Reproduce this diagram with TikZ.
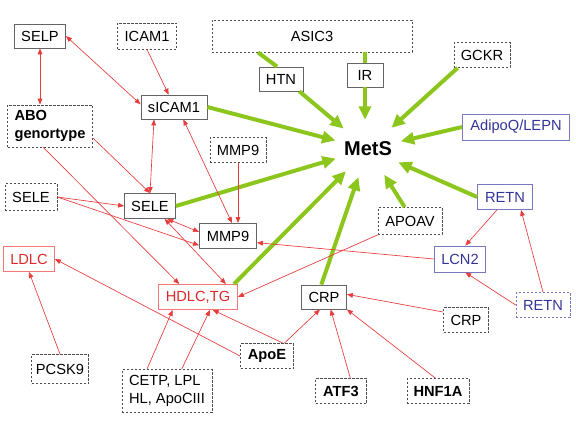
\documentclass[tikz,border=0pt]{standalone}
\usepackage{fontspec}
\setmainfont{Liberation Sans}
\usetikzlibrary{arrows.meta,shapes.geometric}

\definecolor{metsgreen}{RGB}{140,198,28}
\definecolor{linkred}{RGB}{232,60,60}
\definecolor{boxred}{RGB}{240,120,120}
\definecolor{txtred}{RGB}{220,40,40}
\definecolor{boxblue}{RGB}{120,120,190}
\definecolor{txtblue}{RGB}{51,51,153}
\definecolor{boxgray}{RGB}{100,100,100}

\def\pxu{0.75pt}

\tikzset{
    sz/.style 2 args={minimum width=#1*\pxu, minimum height=#2*\pxu},
    gbox/.style={draw=boxgray, line width=0.6pt, inner sep=0pt, align=center},
    dbox/.style={draw=black!70, line width=0.6pt, dash pattern=on 1.6pt off 1.4pt, inner sep=0pt, align=center},
    rbox/.style={draw=boxred, line width=0.6pt, text=txtred, inner sep=0pt, align=center},
    bbox/.style={draw=boxblue, line width=0.6pt, text=txtblue, inner sep=0pt, align=center},
    bdbox/.style={dbox, draw=boxblue, text=txtblue},
    link/.style={draw=linkred, line width=0.5pt, -{Triangle[length=4.5pt,width=3.5pt]}},
    link2/.style={link, {Triangle[length=4.5pt,width=3.5pt]}-{Triangle[length=4.5pt,width=3.5pt]}},
    metsline/.style={draw=metsgreen, line width=3pt},
    metsarrow/.style={metsline, -{Triangle[length=10pt,width=9pt]}}
}

\begin{document}
\begin{tikzpicture}[x=0.75pt,y=-0.75pt,font=\fontsize{11}{13.3}\selectfont]

    \useasboundingbox (0,0) rectangle (576,426);

    % centre
    \node[ellipse, inner sep=0pt, sz={66}{58}, font=\fontsize{15}{18}\selectfont\bfseries] (mets) at (368,149) {MetS};

    % top row
    \node[gbox, sz={51}{24}]  (selp)   at (40,36)   {SELP};
    \node[dbox, sz={59}{26}]  (icam1)  at (147,36)  {ICAM1};
    \node[dbox, sz={200}{32}] (asic3)  at (312,36)  {ASIC3};
    \node[gbox, sz={44}{24}]  (htn)    at (281,79)  {HTN};
    \node[gbox, sz={36}{24}]  (ir)     at (365,75)  {IR};
    \node[dbox, sz={56}{25}]  (gckr)   at (482,55)  {GCKR};
    \node[bbox, sz={107}{26}] (adipoq) at (516,127) {AdipoQ/LEPN};

    % left side
    \node[gbox, sz={66}{24}]  (sicam1) at (174,107) {sICAM1};
    \node[dbox, sz={85}{42}, align=left, font=\fontsize{11}{13.3}\selectfont\bfseries] (abo) at (50,126) {ABO\\genortype};
    \node[dbox, sz={56}{25}]  (mmp9d)  at (238,150) {MMP9};
    \node[dbox, sz={52}{27}]  (seled)  at (31,197)  {SELE};
    \node[gbox, sz={51}{25}]  (sele)   at (150,206) {SELE};
    \node[gbox, sz={57}{25}]  (mmp9)   at (228,236) {MMP9};
    \node[rbox, sz={51}{25}]  (ldlc)   at (29,259)  {LDLC};
    \node[rbox, sz={79}{25}]  (hdlc)   at (198,297) {HDLC,TG};

    % right side
    \node[dbox, sz={64}{27}]  (apoav)  at (410,221) {APOAV};
    \node[bbox, sz={55}{25}]  (retn)   at (505,197) {RETN};
    \node[bbox, sz={51}{26}]  (lcn2)   at (460,259) {LCN2};
    \node[bdbox, sz={54}{25}] (retnd)  at (543,305) {RETN};
    \node[gbox, sz={45}{24}]  (crp)    at (324,297) {CRP};
    \node[dbox, sz={45}{25}]  (crpd)   at (466,320) {CRP};

    % bottom row
    \node[dbox, sz={57}{29}]  (pcsk9)  at (60,369)  {PCSK9};
    \node[dbox, sz={90}{43}, align=left] (cetp) at (167,391) {CETP, LPL\\HL, ApoCIII};
    \node[dbox, sz={53}{25}, font=\fontsize{11}{13.3}\selectfont\bfseries] (apoe)  at (267,356) {ApoE};
    \node[dbox, sz={51}{25}, font=\fontsize{11}{13.3}\selectfont\bfseries] (atf3)  at (341,391) {ATF3};
    \node[dbox, sz={62}{25}, font=\fontsize{11}{13.3}\selectfont\bfseries] (hnf1a) at (438,391) {HNF1A};

    % green arrows into MetS
    \draw[metsline]  (258,0 |- asic3.south) -- ([xshift=-3pt]htn.north);
    \draw[metsarrow] ([xshift=-3pt]htn.south east) -- (mets);
    \draw[metsline]  (ir.north |- asic3.south) -- (ir.north);
    \draw[metsarrow] (ir.south) -- (ir.south |- mets.north);
    \draw[metsarrow] ([xshift=3pt]gckr.south west) -- (mets);
    \draw[metsarrow] (adipoq.west) -- (mets);
    \draw[metsarrow] (sicam1.east) -- (mets);
    \draw[metsarrow] (sele.east) -- (mets);
    \draw[metsarrow] ([xshift=-3pt]hdlc.north east) -- (mets);
    \draw[metsarrow] ([xshift=-2pt]crp.north) -- (mets);
    \draw[metsarrow] ([xshift=-4pt]apoav.north) -- (mets);
    \draw[metsarrow] (retn.west) -- (mets);

    % red links
    \draw[link2] (selp.south) -- (selp.south |- abo.north);
    \draw[link2] (selp.east) -- ([yshift=2pt]sicam1.west);
    \draw[link]  (icam1.south) -- ([xshift=-4pt]sicam1.north);
    \draw[link2] ([xshift=-15pt]sicam1.south) -- (sele.north);
    \draw[link2] ([xshift=7pt]sicam1.south) -- ([xshift=3pt]mmp9.north);
    \draw[link]  (mmp9d.south) -- (mmp9d.south |- mmp9.north);
    \draw[link]  ([yshift=-9pt]abo.east) -- (sele.north);
    \draw[link]  ([xshift=-5pt]abo.south) -- ([xshift=-14pt]hdlc.north);
    \draw[link]  (seled.east) -- (sele.west);
    \draw[link]  (seled.east) -- ([yshift=-7pt]mmp9.west);
    \draw[link2] ([xshift=11pt]sele.south) -- ([xshift=21pt]hdlc.north);
    \draw[link2] ([xshift=13pt]sele.south) -- ([yshift=3pt]mmp9.west);
    \draw[link]  (lcn2.west) -- ([yshift=-5pt]mmp9.east);
    \draw[link]  (pcsk9.north) -- (ldlc.south);
    \draw[link]  (apoe.west) -- (ldlc.east);
    \draw[link]  ([xshift=-15pt]cetp.north) -- ([xshift=-19pt]hdlc.south);
    \draw[link]  ([xshift=11pt]cetp.north) -- ([xshift=9pt]hdlc.south);
    \draw[link]  ([xshift=12pt]apoe.north) -- ([xshift=11pt]hdlc.south);
    \draw[link]  ([xshift=13pt]apoe.north) -- ([xshift=-3pt]crp.south);
    \draw[link]  (apoav.south west) -- (hdlc.east);
    \draw[link]  ([yshift=6pt]crpd.west) -- ([yshift=2pt]crp.east);
    \draw[link]  ([xshift=7pt]atf3.north) -- ([xshift=5pt]crp.south);
    \draw[link]  ([xshift=-2pt]hnf1a.north) -- (crp.south east);
    \draw[link]  ([xshift=-6pt]retn.south) -- ([xshift=4pt]lcn2.north);
    \draw[link]  (retnd.west) -- ([xshift=4pt]lcn2.south);
    \draw[link]  (retnd.north) -- ([xshift=12pt]retn.south);

\end{tikzpicture}
\end{document}
